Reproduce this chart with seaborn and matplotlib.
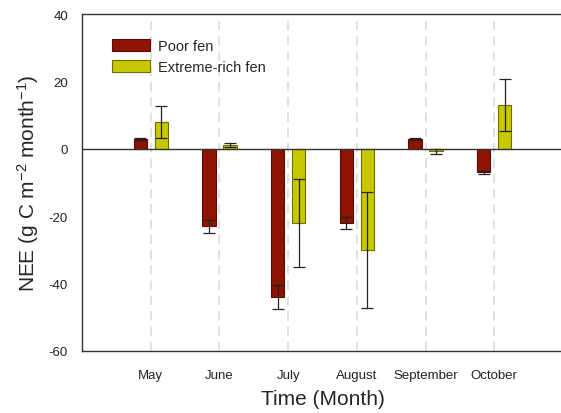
import numpy as np
import pandas as pd
import matplotlib
matplotlib.use("Agg")
import matplotlib.pyplot as plt
import seaborn as sns

# ---------- data ----------
months = ['May', 'June', 'July', 'August', 'September', 'October']
poor_fen = [3.0, -23.0, -44.0, -22.0, 3.0, -7.0]
poor_err = [0.3, 2.0, 3.5, 1.9, 0.3, 0.5]
rich_fen = [8.0, 1.0, -22.0, -30.0, -0.8, 13.0]
rich_err = [4.7, 0.6, 13.1, 17.3, 0.8, 7.6]
groups = ['Poor fen', 'Extreme-rich fen']
colors = ['#8e1300', '#c8c800']
edges = ['#5a0c00', '#6e6e00']

df = pd.DataFrame({
    'month': months * 2,
    'NEE': poor_fen + rich_fen,
    'err': poor_err + rich_err,
    'site': [groups[0]] * 6 + [groups[1]] * 6,
})

sns.set_style('white')
plt.rcParams['font.family'] = ['Liberation Sans', 'DejaVu Sans']
plt.rcParams['mathtext.fontset'] = 'custom'
plt.rcParams['mathtext.rm'] = 'Liberation Sans'
plt.rcParams['mathtext.it'] = 'Liberation Sans'
plt.rcParams['axes.unicode_minus'] = False

fig = plt.figure(figsize=(5.61, 4.14), dpi=100)
ax = fig.add_axes([82 / 561, 62 / 414, 481 / 561, 337 / 414])

sns.barplot(data=df, x='month', y='NEE', hue='site', order=months,
            hue_order=groups, palette=colors, saturation=1, width=0.61,
            gap=0.37, errorbar=None, linewidth=0.8, ax=ax, zorder=3)

# edge colours + error bars at the bar centres
for cont, ec, err in zip(ax.containers, edges, [poor_err, rich_err]):
    xs, ys = [], []
    for bar in cont:
        bar.set_edgecolor(ec)
        xs.append(bar.get_x() + bar.get_width() / 2)
        ys.append(bar.get_height())
    ax.errorbar(xs, ys, yerr=err, fmt='none', ecolor='#222222',
                elinewidth=0.9, capsize=4, capthick=0.9, zorder=4)

ax.axhline(0, color='#333333', lw=1, zorder=5)
for i in range(len(months)):
    ax.axvline(i, color='#d8d8d8', lw=1.1, ls=(0, (6, 4)), zorder=1)

ax.set_xlim(-1, 6)
ax.set_ylim(-60, 40)
ax.set_yticks([-60, -40, -20, 0, 20, 40])
for s in ['left', 'bottom', 'top']:
    ax.spines[s].set_color('#333333')
    ax.spines[s].set_linewidth(1)
ax.spines['right'].set_visible(False)
ax.tick_params(axis='both', direction='out', length=4, width=1,
               color='#333333', labelcolor='#222222', labelsize=9.5, pad=6)
ax.tick_params(axis='x', pad=9)

ax.set_xlabel('Time (Month)', fontsize=15, labelpad=6)
ax.set_ylabel(r'NEE (g C m$^{-2}$ month$^{-1}$)', fontsize=15, labelpad=6)

leg = ax.legend(loc='upper left', bbox_to_anchor=(0.035, 0.965), frameon=False,
                fontsize=10.5, handlelength=2.6, handleheight=0.95,
                handletextpad=0.55, labelspacing=0.45)
for h, ec in zip(leg.get_patches(), edges):
    h.set_edgecolor(ec)

fig.savefig('out.png', dpi=100)
